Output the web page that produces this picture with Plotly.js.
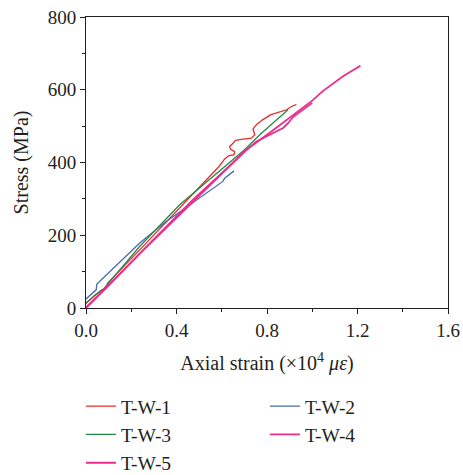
<!DOCTYPE html>
<html>
<head>
<meta charset="utf-8">
<script src="https://cdn.plot.ly/plotly-3.0.1.min.js"></script>
<style>html,body{margin:0;padding:0;background:#fff;}#chart{width:463px;height:475px;}</style>
</head>
<body>
<div id="chart"></div>
<script>
// Series data (strain ×10^4 με, stress MPa)
const seriesNames = ["T-W-1", "T-W-2", "T-W-3", "T-W-4", "T-W-5"];

const tw1Strain = [0, 0.04, 0.07, 0.09, 0.095, 0.25, 0.42, 0.588, 0.613, 0.632, 0.654, 0.657, 0.638, 0.635, 0.650, 0.661, 0.694, 0.731, 0.746, 0.738, 0.753, 0.782, 0.815, 0.856, 0.886, 0.908, 0.930];
const tw1Stress = [14, 35, 50, 54, 68, 168, 279, 389, 410, 419, 421, 430, 437, 444, 453, 461, 464, 467, 476, 492, 504, 518, 531, 538, 545, 554, 559];

const tw2Strain = [0, 0.045, 0.048, 0.13, 0.24, 0.35, 0.458, 0.576, 0.605, 0.613, 0.623, 0.627, 0.64, 0.654];
const tw2Stress = [25, 50, 66, 115, 180, 236, 284, 334, 348, 357, 362, 366, 372, 377];

const tw3Strain = [0, 0.04, 0.077, 0.237, 0.414, 0.546, 0.701, 0.768, 0.834, 0.864, 0.893];
const tw3Stress = [12, 36, 52, 169, 284, 353, 435, 476, 513, 531, 545];

const tw4Strain = [0, 0.1, 0.25, 0.473, 0.6, 0.709, 0.8, 0.9, 1.0, 1.048, 1.136, 1.213];
const tw4Stress = [0, 63, 160, 298, 371, 435, 476, 522, 570, 597, 637, 666];

const tw5Strain = [0, 0.1, 0.25, 0.48, 0.694, 0.753, 0.797, 0.842, 0.871, 0.893, 0.915, 0.952, 0.975, 1.0];
const tw5Stress = [2, 62, 157, 295, 426, 458, 472, 488, 495, 508, 525, 542, 552, 564];

const xTickVals = [0, 0.4, 0.8, 1.2, 1.6];
const xTickText = ["0.0", "0.4", "0.8", "1.2", "1.6"];
const yTickVals = [0, 200, 400, 600, 800];
const yTickText = ["0", "200", "400", "600", "800"];

const colors = ["#ec2a2a", "#4a67b2", "#1f8a44", "#ee2a8c", "#ee2a8c"];
const widths = [1.3, 1.3, 1.3, 1.8, 1.8];
const xs = [tw1Strain, tw2Strain, tw3Strain, tw4Strain, tw5Strain];
const ys = [tw1Stress, tw2Stress, tw3Stress, tw4Stress, tw5Stress];

const FONT = "Liberation Serif, Times New Roman, serif";
const TXT = "#231f20";

const traces = seriesNames.map((n, i) => ({
  type: "scatter", mode: "lines", name: n,
  x: xs[i], y: ys[i],
  line: {color: colors[i], width: widths[i]}
}));

const axisCommon = {
  showgrid: false, zeroline: false, showline: true, mirror: true, automargin: false,
  linecolor: TXT, linewidth: 1, ticks: "outside", ticklen: 5, tickwidth: 1, tickcolor: TXT,
  tickfont: {family: FONT, size: 19, color: TXT}
};

const layout = {
  width: 463, height: 475,
  margin: {l: 86, r: 15, t: 17, b: 167, autoexpand: false},
  paper_bgcolor: "#fff", plot_bgcolor: "#fff",
  font: {family: FONT, size: 19, color: TXT},
  showlegend: true,
  legend: {
    orientation: "h", x: -0.014, xanchor: "left", y: -0.271, yanchor: "top",
    entrywidth: 139, entrywidthmode: "pixels", traceorder: "normal",
    font: {family: FONT, size: 19.5, color: TXT}, bgcolor: "rgba(0,0,0,0)"
  },
  xaxis: Object.assign({}, axisCommon, {
    range: [0, 1.6], tickvals: xTickVals, ticktext: xTickText,
    minor: {tickvals: [0.2, 0.6, 1.0, 1.4], ticks: "outside", ticklen: 3, tickcolor: TXT},
    title: {text: "Axial strain (×10<sup>4</sup> <i>με</i>)", font: {family: FONT, size: 20, color: TXT}, standoff: 16}
  }),
  yaxis: Object.assign({}, axisCommon, {
    range: [0, 800], tickvals: yTickVals, ticktext: yTickText,
    minor: {tickvals: [100, 300, 500, 700], ticks: "outside", ticklen: 3, tickcolor: TXT},
    title: {text: "Stress (MPa)", font: {family: FONT, size: 20, color: TXT}, standoff: 13}
  })
};

Plotly.newPlot("chart", traces, layout, {staticPlot: true, displayModeBar: false});
</script>
</body>
</html>
